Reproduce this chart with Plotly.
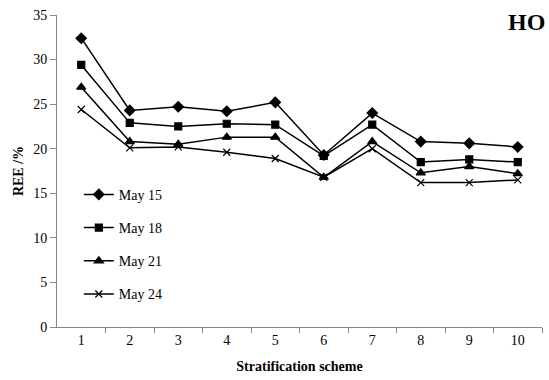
import plotly.graph_objects as go

# Stratification schemes on the x axis
schemes = [1, 2, 3, 4, 5, 6, 7, 8, 9, 10]

# REE (%)
may15 = [32.4, 24.3, 24.7, 24.2, 25.2, 19.3, 24.0, 20.8, 20.6, 20.2]
may18 = [29.4, 22.9, 22.5, 22.8, 22.7, 19.2, 22.7, 18.5, 18.8, 18.5]
may21 = [26.9, 20.8, 20.5, 21.3, 21.3, 16.8, 20.8, 17.3, 18.0, 17.2]
may24 = [24.4, 20.1, 20.2, 19.6, 18.9, 16.8, 20.0, 16.2, 16.2, 16.5]

series = [
    ('May 15', may15, 'diamond', 8),
    ('May 18', may18, 'square', 7),
    ('May 21', may21, 'triangle-up', 8),
    ('May 24', may24, 'x-thin-open', 7),
]

fig = go.Figure()
for name, vals, sym, sz in series:
    fig.add_trace(go.Scatter(
        x=schemes, y=vals, name=name, legendgroup=name,
        mode='lines+markers',
        line=dict(color='black', width=1.5),
        marker=dict(symbol=sym, size=sz, color='black',
                    line=dict(color='black', width=1.2)),
    ))

serif = 'Liberation Serif'
axis_font = dict(family=serif, size=14, color='black')
title_font = dict(family=serif, size=14, color='black')
fig.update_layout(
    width=549, height=380,
    margin=dict(l=57, r=7, t=15, b=53),
    paper_bgcolor='white', plot_bgcolor='white',
    font=axis_font,
    showlegend=True,
    legend=dict(x=0.045, y=0.475, xanchor='left', yanchor='top',
                traceorder='grouped', tracegroupgap=12,
                bgcolor='rgba(0,0,0,0)', font=axis_font),
    annotations=[dict(text='<b>HO</b>', x=1, y=1, xref='paper', yref='paper',
                      xanchor='right', yanchor='top', xshift=5, yshift=8, showarrow=False,
                      font=dict(family=serif, size=24, color='black'))],
)
fig.update_xaxes(
    range=[0.5, 10.5], tickmode='array', tickvals=schemes, tickfont=axis_font,
    showline=True, linecolor='#868686', linewidth=1,
    showgrid=False, zeroline=False, ticks='', ticklen=0,
    title=dict(text='<b>Stratification scheme</b>', standoff=14, font=title_font),
    minor=dict(tickvals=[1.5, 2.5, 3.5, 4.5, 5.5, 6.5, 7.5, 8.5, 9.5, 10.5],
               ticks='outside', ticklen=5, tickcolor='#868686', showgrid=False),
)
fig.update_yaxes(
    range=[0, 35], dtick=5, tickfont=axis_font,
    showline=True, linecolor='#868686', linewidth=1,
    showgrid=False, zeroline=False, ticks='outside', ticklen=6, tickcolor='#868686',
    title=dict(text='<b>REE /%</b>', standoff=6, font=title_font),
)

fig.write_html('out.html', config={'displayModeBar': False},
               post_script="document.body.style.margin='0';document.body.style.overflow='hidden';")
